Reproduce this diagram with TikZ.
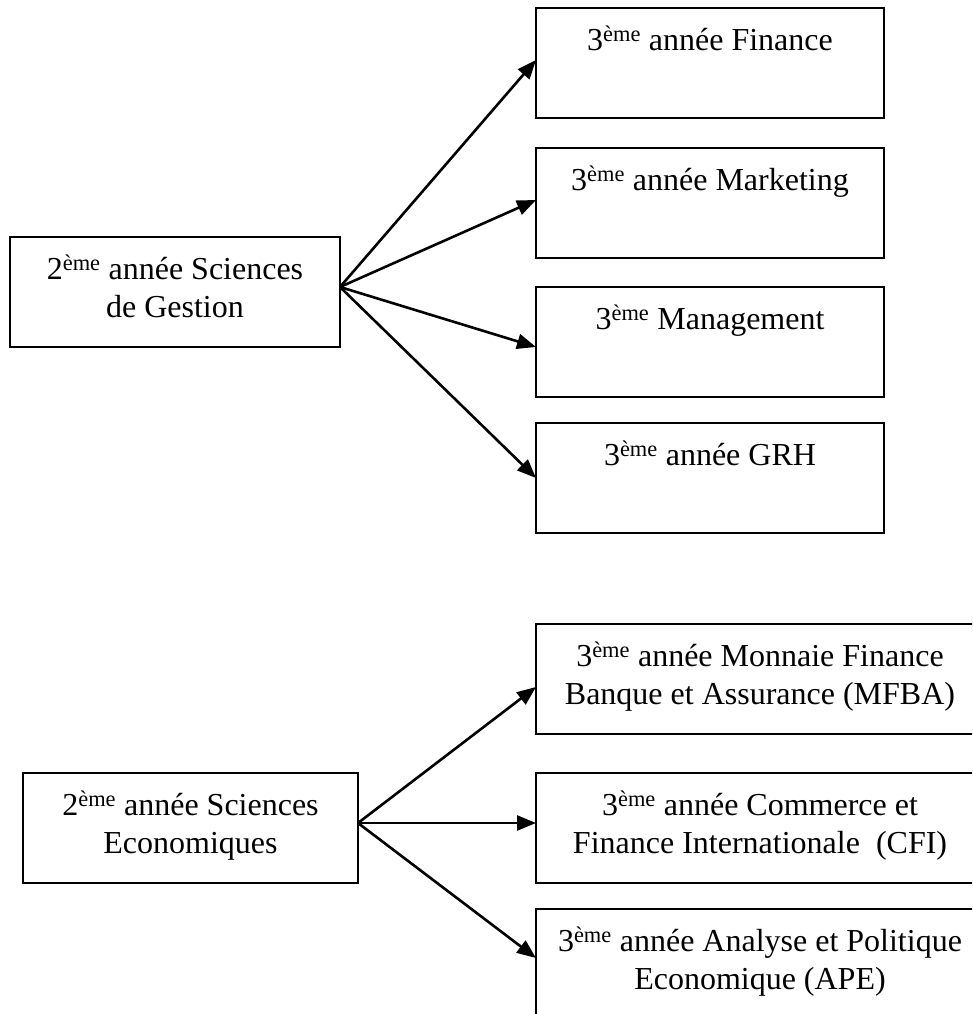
\documentclass[tikz,border=0pt]{standalone}
\usepackage{fontspec}
\setmainfont{Liberation Serif}
\usetikzlibrary{arrows.meta,positioning}

\begin{document}
\begin{tikzpicture}[x=1pt, y=-1pt, line width=2.2pt, arrows={-Triangle[length=19pt,width=15pt]},
	box/.style={draw, rectangle, inner sep=0pt, outer sep=0pt, minimum height=110pt},
	txt/.style={inner sep=0pt, align=center, font=\fontsize{32}{38}\selectfont},
	link/.style={line width=2.6pt}]
	\useasboundingbox (0,0) rectangle (972,1014);
	\clip (0,0) rectangle (972,1014);

	\node[box, minimum width=330pt] (SG) at (175,292) {};
	\node[box, minimum width=348pt] (FIN) at (710,63) {};
	\node[box, minimum width=348pt] (MKT) at (710,203) {};
	\node[box, minimum width=348pt] (MGT) at (710,342) {};
	\node[box, minimum width=348pt] (GRH) at (710,478) {};

	\node[box, minimum width=335pt] (SE) at (190.5,828) {};
	\node[box, minimum width=448pt] (MFBA) at (760,679) {};
	\node[box, minimum width=448pt] (CFI) at (760,828) {};
	\node[box, minimum width=448pt] (APE) at (760,964) {};

	\node[txt, below=17pt of SG.north] (SGt) {2\textsuperscript{ème} année Sciences\\de Gestion};
	\node[txt, below=17pt of FIN.north] (FINt) {3\textsuperscript{ème} année Finance};
	\node[txt, below=17pt of MKT.north] (MKTt) {3\textsuperscript{ème} année Marketing};
	\node[txt, below=17pt of MGT.north] (MGTt) {3\textsuperscript{ème} Management};
	\node[txt, below=17pt of GRH.north] (GRHt) {3\textsuperscript{ème} année GRH};

	\node[txt, below=17pt of SE.north] (SEt) {2\textsuperscript{ème} année Sciences\\Economiques};
	\node[txt, below=17pt of MFBA.north] (MFBAt) {3\textsuperscript{ème} année Monnaie Finance\\Banque et Assurance (MFBA)};
	\node[txt, below=17pt of CFI.north] (CFIt) {3\textsuperscript{ème} année Commerce et\\Finance Internationale\ \ (CFI)};
	\node[txt, below=17pt of APE.north] (APEt) {3\textsuperscript{ème} année Analyse et Politique\\Economique (APE)};

	\draw[link] ([yshift=5pt]SG.east) to ([yshift=3pt]FIN.west);
	\draw[link] ([yshift=5pt]SG.east) to ([yshift=3pt]MKT.west);
	\draw[link] ([yshift=5pt]SG.east) to ([yshift=-5pt]MGT.west);
	\draw[link] ([yshift=5pt]SG.east) to (GRH.west);

	\draw[link] ([yshift=5pt]SE.east) to ([yshift=-8pt]MFBA.west);
	\draw[link] ([yshift=5pt]SE.east) to ([yshift=5pt]CFI.west);
	\draw[link] ([yshift=5pt]SE.east) to ([yshift=6pt]APE.west);
\end{tikzpicture}
\end{document}
